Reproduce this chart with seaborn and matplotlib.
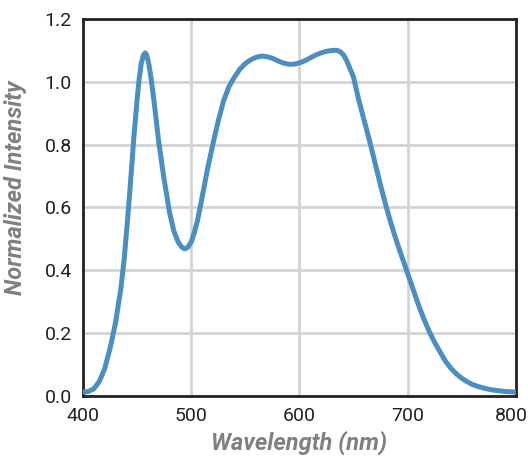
import matplotlib
matplotlib.use('Agg')
import matplotlib.pyplot as plt
import matplotlib.transforms as mtransforms
import seaborn as sns
import pandas as pd

#DATA
####################################################################################################

wavelength = [400, 405, 410, 415, 420, 425, 430, 435, 438, 441, 444, 447, 450, 452, 454, 456,
              457.5, 459, 461, 463, 466, 470, 475, 480, 484, 488, 491, 494, 497, 500, 503, 506,
              510, 515, 520, 525, 530, 535, 540, 545, 550, 555, 560, 565, 570, 575, 580, 585,
              590, 595, 600, 605, 610, 615, 620, 625, 630, 635, 638, 641, 644, 647, 650, 655,
              660, 665, 670, 675, 680, 685, 690, 695, 700, 705, 710, 715, 720, 725, 730, 735,
              740, 745, 750, 755, 760, 765, 770, 775, 780, 785, 790, 795, 800]
intensity = [0.012, 0.014, 0.022, 0.045, 0.085, 0.15, 0.23, 0.34, 0.43, 0.55, 0.68, 0.82, 0.94,
             1.01, 1.06, 1.085, 1.092, 1.085, 1.055, 1.01, 0.93, 0.81, 0.69, 0.585, 0.525, 0.49,
             0.475, 0.468, 0.473, 0.49, 0.52, 0.56, 0.63, 0.72, 0.80, 0.875, 0.94, 0.985, 1.015,
             1.04, 1.058, 1.07, 1.078, 1.082, 1.08, 1.075, 1.067, 1.06, 1.056, 1.056, 1.06,
             1.067, 1.076, 1.085, 1.092, 1.097, 1.10, 1.10, 1.095, 1.085, 1.065, 1.04, 1.015,
             0.94, 0.875, 0.81, 0.74, 0.67, 0.605, 0.545, 0.49, 0.44, 0.39, 0.34, 0.29, 0.245,
             0.205, 0.17, 0.14, 0.11, 0.088, 0.07, 0.056, 0.045, 0.036, 0.03, 0.025, 0.021,
             0.018, 0.016, 0.014, 0.013, 0.012]

x_ticks = [400, 500, 600, 700, 800]
y_ticks = [0.0, 0.2, 0.4, 0.6, 0.8, 1.0, 1.2]

df_spec = pd.DataFrame({'Wavelength': wavelength, 'Intensity': intensity})

#PLOT
####################################################################################################

sns.set_theme(style='white')
plt.rcParams['font.family'] = ['Roboto', 'DejaVu Sans']

fig = plt.figure(figsize=(5.28, 4.63), dpi=100)
ax = fig.add_axes([0.157, 0.145, 0.820, 0.814])

sns.lineplot(data=df_spec, x='Wavelength', y='Intensity', ax=ax, color='#4a8fc0', linewidth=3.6,
             zorder=3)
ax.lines[0].set_solid_joinstyle('round')

ax.set_xlim(400, 800)
ax.set_ylim(0, 1.2)
ax.set_xticks(x_ticks)
ax.set_yticks(y_ticks)
ax.set_yticklabels([f'{v:.1f}' for v in y_ticks])
ax.grid(True, color='#d4d4d4', linewidth=2, zorder=0)
ax.tick_params(axis='both', length=0, labelsize=14, labelcolor='#222222', pad=8)

#Nudge the last x label left so it stays inside the canvas
lbl = ax.get_xticklabels()[-1]
lbl.set_transform(lbl.get_transform() + mtransforms.ScaledTranslation(-4/100, 0, fig.dpi_scale_trans))

for s in ax.spines.values():
    s.set_color('#222222')
    s.set_linewidth(2)
    s.set_visible(True)

ax.set_xlabel('Wavelength (nm)', fontsize=17, fontweight='bold', fontstyle='italic',
              color='#808080', labelpad=4)
ax.set_ylabel('Normalized Intensity', fontsize=17, fontweight='bold', fontstyle='italic',
              color='#808080', labelpad=10)
ax.yaxis.set_label_coords(-0.128, 0.552)

plt.savefig('out.png', dpi=100)
